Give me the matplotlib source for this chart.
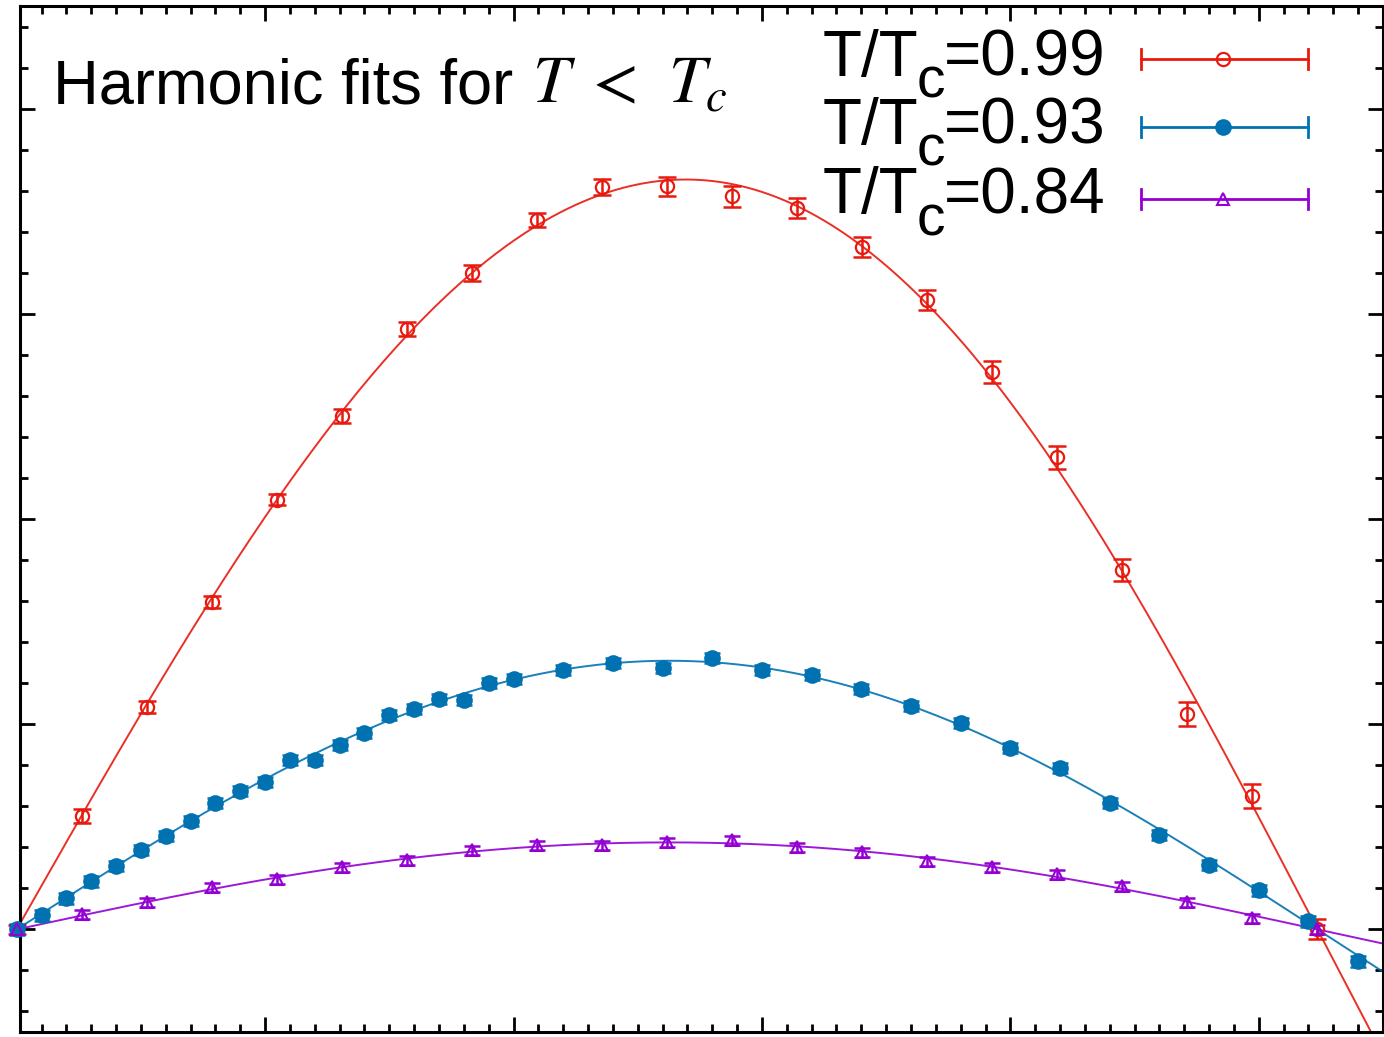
import numpy as np
import matplotlib
matplotlib.use("Agg")
import matplotlib.pyplot as plt
from matplotlib import font_manager as fm
from matplotlib.lines import Line2D
from matplotlib.ticker import MultipleLocator, FixedLocator

# ---------------- data ----------------
# phase angle (rad) of the coarse series (T/Tc = 0.99 and 0.84)
theta_coarse = [0.0000, 0.1571, 0.3142, 0.4712, 0.6283, 0.7854, 0.9425,
                1.0996, 1.2566, 1.4137, 1.5708, 1.7279, 1.8850, 2.0420,
                2.1991, 2.3562, 2.5133, 2.6704, 2.8274, 2.9845, 3.1416]

red_y = [0.000, 0.552, 1.084, 1.597, 2.095, 2.501, 2.926, 3.199, 3.458,
         3.619, 3.621, 3.573, 3.516, 3.326, 3.067, 2.716, 2.300, 1.753,
         1.050, 0.650, 0.000]
red_err = [0.020, 0.034, 0.029, 0.029, 0.029, 0.034, 0.034, 0.039, 0.034,
           0.039, 0.046, 0.051, 0.049, 0.049, 0.049, 0.054, 0.054, 0.054,
           0.059, 0.059, 0.049]

purple_y = [0.000, 0.073, 0.132, 0.205, 0.244, 0.303, 0.337, 0.386, 0.410,
            0.410, 0.425, 0.435, 0.400, 0.376, 0.332, 0.303, 0.269, 0.210,
            0.132, 0.054, 0.000]
purple_err = [0.020, 0.022, 0.022, 0.022, 0.022, 0.022, 0.022, 0.022, 0.022,
              0.022, 0.022, 0.022, 0.022, 0.022, 0.022, 0.022, 0.022, 0.022,
              0.022, 0.022, 0.020]

blue_theta = [0.00, 0.06, 0.12, 0.18, 0.24, 0.30, 0.36, 0.42, 0.48, 0.54,
              0.60, 0.66, 0.72, 0.78, 0.84, 0.90, 0.96, 1.02, 1.08, 1.14,
              1.20, 1.32, 1.44, 1.56, 1.68, 1.80, 1.92, 2.04, 2.16, 2.28,
              2.40, 2.52, 2.64, 2.76, 2.88, 3.00, 3.12, 3.24]
blue_y = [0.000, 0.068, 0.151, 0.234, 0.308, 0.386, 0.454, 0.527, 0.615,
          0.674, 0.718, 0.825, 0.825, 0.899, 0.957, 1.045, 1.074, 1.123,
          1.118, 1.201, 1.221, 1.265, 1.299, 1.275, 1.324, 1.265, 1.241,
          1.172, 1.089, 1.006, 0.884, 0.786, 0.615, 0.459, 0.313, 0.190,
          0.039, -0.156]
blue_err = [0.025] * len(blue_y)

legend_values = ["0.99", "0.93", "0.84"]
title_text = "Harmonic fits for "
title_math = r"$T\;<\;\,T_c$"

RED = "#e8190e"
BLUE = "#0072b2"
PURPLE = "#9400d3"

# ---------------- figure ----------------
W, H = 1384, 1037
fig = plt.figure(figsize=(W / 100, H / 100), dpi=100)
plt.rcParams["mathtext.fontset"] = "stix"

names = {f.name for f in fm.fontManager.ttflist}
narrow = "Liberation Sans Narrow" in names
sans = "Liberation Sans" if "Liberation Sans" in names else "DejaVu Sans"

ax = fig.add_axes([20 / W, (H - 1032) / H, 1363 / W, 1026 / H])
ax.set_xlim(0.008, 3.3)
ax.set_ylim(-0.5, 4.5)
ax.xaxis.set_major_locator(FixedLocator([0.6, 1.2, 1.8, 2.4, 3.0]))
ax.xaxis.set_minor_locator(MultipleLocator(0.06))
ax.yaxis.set_major_locator(MultipleLocator(1.0))
ax.yaxis.set_minor_locator(MultipleLocator(0.2))
ax.tick_params(which="both", direction="in", top=True, right=True,
               labelbottom=False, labelleft=False, width=2.0)
ax.tick_params(which="major", length=11)
ax.tick_params(which="minor", length=5.5)
for s in ax.spines.values():
    s.set_linewidth(2.2)


def harmonic_fit(th, y, nmax=3):
    th = np.asarray(th, float)
    y = np.asarray(y, float)
    A = np.column_stack([np.sin(n * th) for n in range(1, nmax + 1)])
    coef, *_ = np.linalg.lstsq(A, y, rcond=None)
    return coef


th_line = np.linspace(0, 3.35, 600)
series = [
    (theta_coarse, red_y, red_err, RED, dict(marker="o", mfc="none", ms=9.5, mew=1.6), 6.5),
    (blue_theta, blue_y, blue_err, BLUE, dict(marker="o", mfc=BLUE, ms=12, mew=0), 5.5),
    (theta_coarse, purple_y, purple_err, PURPLE, dict(marker="^", mfc="none", ms=9, mew=1.5), 5.5),
]
for th, y, e, c, mk, cs in series:
    coef = harmonic_fit(th, y)
    fit = sum(coef[n] * np.sin((n + 1) * th_line) for n in range(len(coef)))
    ax.plot(th_line, fit, color=c, lw=1.4, zorder=2, alpha=0.9)

for th, y, e, c, mk, cs in series:
    cont = ax.errorbar(th, y, yerr=e, fmt="none", ecolor=c, elinewidth=1.8,
                       capsize=cs, capthick=1.8, zorder=3)
    for art in list(cont.lines[1]) + list(cont.lines[2]):
        art.set_clip_on(False)
    ln, = ax.plot(th, y, ls="none", color=c, mec=c, zorder=4, **mk)
    ln.set_clip_on(False)


def fx(px):
    return px / W


def fy(py):
    return 1 - py / H


# title
t_title = fig.text(fx(53), fy(103), title_text, fontsize=45.5, family=sans,
                   va="baseline", ha="left")
fig.canvas.draw()
r = fig.canvas.get_renderer()
bb = t_title.get_window_extent(r)
fig.text(bb.x1 / W + 0.001, fy(103), title_math, fontsize=48,
         va="baseline", ha="left")

# legend
leg_fam = ["Liberation Sans Narrow", sans] if narrow else [sans]
main_fs = 51 if narrow else 46
sub_fs = 44 if narrow else 41
baselines = [76, 144, 213]
line_y = [59, 127, 199]
for i, (val, c, (_, _, _, _, mk, _)) in enumerate(zip(legend_values, [RED, BLUE, PURPLE], series)):
    b = baselines[i]
    t1 = fig.text(fx(823), fy(b), "T/T", fontsize=main_fs, family=leg_fam,
                  va="baseline", ha="left")
    fig.canvas.draw()
    e1 = t1.get_window_extent(r)
    t2 = fig.text((e1.x1 - 2) / W, fy(b + 22), "c", fontsize=sub_fs,
                  family=leg_fam, va="baseline", ha="left")
    fig.canvas.draw()
    e2 = t2.get_window_extent(r)
    fig.text((e2.x1 - 1) / W, fy(b), "=" + val, fontsize=main_fs,
             family=leg_fam, va="baseline", ha="left")
    ly = line_y[i]
    fig.add_artist(Line2D([fx(1141), fx(1308)], [fy(ly), fy(ly)], color=c, lw=2))
    for xc in (1141, 1308):
        fig.add_artist(Line2D([fx(xc), fx(xc)], [fy(ly - 10), fy(ly + 10)], color=c, lw=2))
    fig.add_artist(Line2D([fx(1223)], [fy(ly)], ls="none", color=c, mec=c, **mk))

fig.savefig("out.png", dpi=100)
